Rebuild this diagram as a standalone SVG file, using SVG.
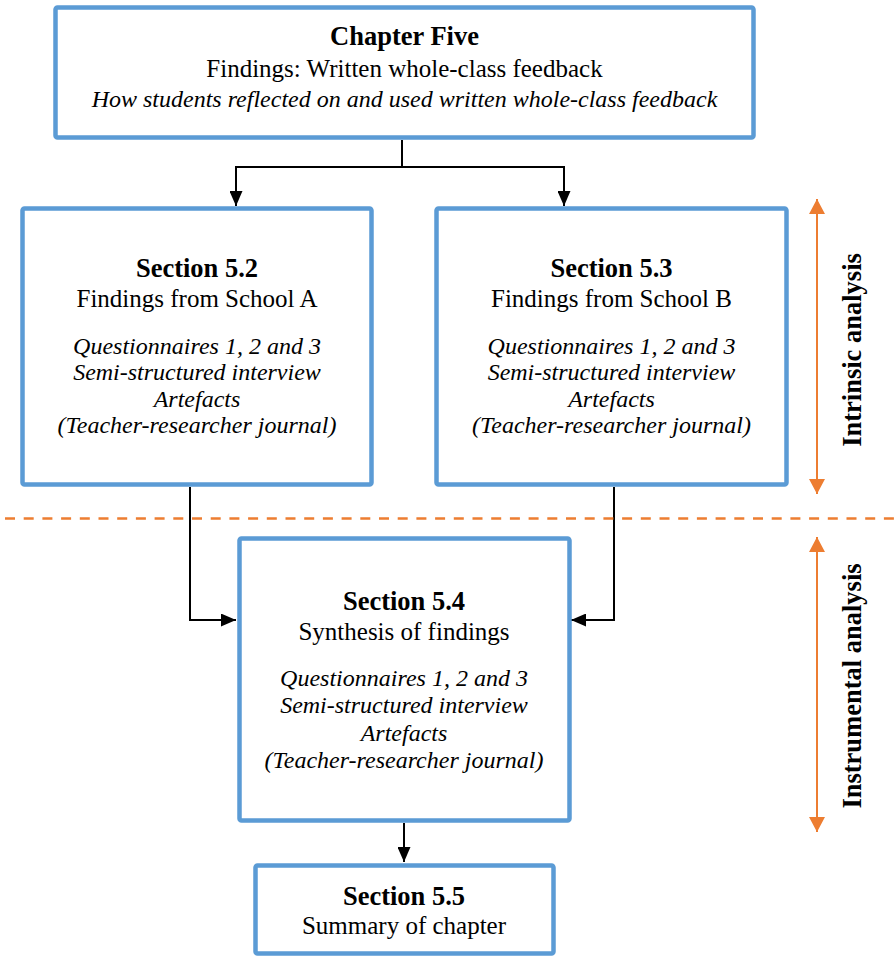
<svg xmlns="http://www.w3.org/2000/svg" width="894" height="958" viewBox="0 0 894 958">
<style>
.box{fill:#fff;stroke:#5B9BD5;stroke-width:4.5}
text{font-family:"Liberation Serif","Times New Roman",serif;fill:#000;text-anchor:middle}
.b{font-weight:bold;font-size:26.5px}
.r{font-size:25px}
.i{font-style:italic;font-size:24px}
.con{fill:none;stroke:#000;stroke-width:2}
.or{fill:none;stroke:#ED7D31;stroke-width:2}
.dash{fill:none;stroke:#ED7D31;stroke-width:2.7;stroke-dasharray:10 8.7}
</style>
<defs>
<marker id="ah" markerUnits="userSpaceOnUse" markerWidth="15" markerHeight="13" refX="15" refY="6.5" orient="auto"><path d="M0,0 L15,6.5 L0,13 z" fill="#000"/></marker>
<marker id="oh" markerUnits="userSpaceOnUse" markerWidth="15" markerHeight="16" refX="15" refY="8" orient="auto-start-reverse"><path d="M0,0 L15,8 L0,16 z" fill="#ED7D31"/></marker>
</defs>
<rect width="894" height="958" fill="#fff"/>
<g id="connectors">
<path class="con" d="M402,140 V167 M236,167 H564"/>
<path class="con" d="M236,166 V206" marker-end="url(#ah)"/>
<path class="con" d="M564,166 V206" marker-end="url(#ah)"/>
<path class="con" d="M190,487 V620 H236" marker-end="url(#ah)"/>
<path class="con" d="M614,487 V620 H571" marker-end="url(#ah)"/>
<path class="con" d="M404,823 V862" marker-end="url(#ah)"/>
</g>
<g id="divider">
<line class="dash" x1="5" y1="518.5" x2="894" y2="518.5"/>
<line class="or" x1="817" y1="199" x2="817" y2="494" marker-start="url(#oh)" marker-end="url(#oh)"/>
<line class="or" x1="817" y1="537" x2="817" y2="832" marker-start="url(#oh)" marker-end="url(#oh)"/>
<text class="b" transform="translate(861,350) rotate(-90)">Intrinsic analysis</text>
<text class="b" transform="translate(861,686) rotate(-90)">Instrumental analysis</text>
</g>
<g id="chapter5">
<rect class="box" x="55.5" y="7.5" width="698" height="130" rx="2"/>
<text class="b" x="404.5" y="45">Chapter Five</text>
<text class="r" x="404.5" y="77">Findings: Written whole-class feedback</text>
<text class="i" x="404.5" y="107">How students reflected on and used written whole-class feedback</text>
</g>
<g id="section52">
<rect class="box" x="22.5" y="208.5" width="349" height="276" rx="2"/>
<text class="b" x="197" y="277">Section 5.2</text>
<text class="r" x="197" y="307">Findings from School A</text>
<text class="i" x="197" y="354">Questionnaires 1, 2 and 3</text>
<text class="i" x="197" y="380">Semi-structured interview</text>
<text class="i" x="197" y="407">Artefacts</text>
<text class="i" x="197" y="433">(Teacher-researcher journal)</text>
</g>
<g id="section53">
<rect class="box" x="436.5" y="208.5" width="350" height="276" rx="2"/>
<text class="b" x="611.5" y="277">Section 5.3</text>
<text class="r" x="611.5" y="307">Findings from School B</text>
<text class="i" x="611.5" y="354">Questionnaires 1, 2 and 3</text>
<text class="i" x="611.5" y="380">Semi-structured interview</text>
<text class="i" x="611.5" y="407">Artefacts</text>
<text class="i" x="611.5" y="433">(Teacher-researcher journal)</text>
</g>
<g id="section54">
<rect class="box" x="239.5" y="538.5" width="330" height="282" rx="2"/>
<text class="b" x="404" y="610">Section 5.4</text>
<text class="r" x="404" y="640">Synthesis of findings</text>
<text class="i" x="404" y="686">Questionnaires 1, 2 and 3</text>
<text class="i" x="404" y="713">Semi-structured interview</text>
<text class="i" x="404" y="741">Artefacts</text>
<text class="i" x="404" y="768">(Teacher-researcher journal)</text>
</g>
<g id="section55">
<rect class="box" x="255.5" y="865.5" width="298" height="88" rx="2"/>
<text class="b" x="404" y="905">Section 5.5</text>
<text class="r" x="404" y="934">Summary of chapter</text>
</g>
</svg>
